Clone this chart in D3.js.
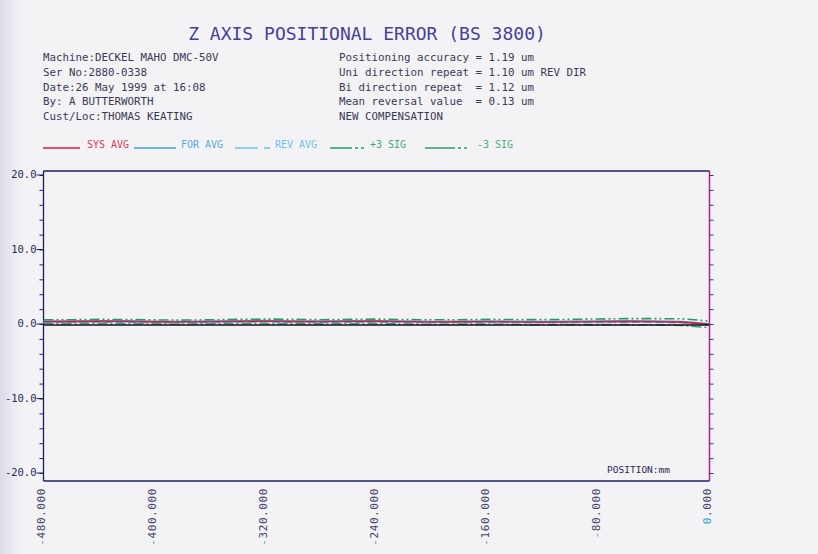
<!DOCTYPE html>
<html><head><meta charset="utf-8">
<script src="https://cdn.jsdelivr.net/npm/d3@7"></script>
<style>
html,body{margin:0;padding:0;background:#f3f3f5;}
svg text{font-family:"DejaVu Sans Mono",monospace;}
</style></head>
<body><svg id="c" width="818" height="554"></svg>
<script>
// ---- data ----
const positions = [-480,-460,-440,-420,-400,-380,-360,-340,-320,-300,-280,-260,-240,-220,-200,-180,-160,-140,-120,-100,-80,-60,-40,-20,0];
const sysAvg = [0.30,0.32,0.35,0.33,0.28,0.26,0.30,0.34,0.36,0.32,0.30,0.33,0.35,0.30,0.26,0.28,0.30,0.27,0.24,0.27,0.30,0.32,0.30,0.25,-0.05];
const forAvg = [0.38,0.40,0.44,0.42,0.36,0.34,0.38,0.42,0.45,0.40,0.38,0.42,0.44,0.38,0.34,0.36,0.40,0.36,0.33,0.36,0.40,0.42,0.40,0.34,0.02];
const revAvg = [0.22,0.24,0.26,0.24,0.20,0.18,0.22,0.26,0.27,0.24,0.22,0.24,0.26,0.22,0.18,0.20,0.22,0.19,0.16,0.19,0.22,0.24,0.22,0.17,-0.12];
const plus3Sig = [0.55,0.58,0.62,0.60,0.55,0.52,0.56,0.62,0.66,0.62,0.58,0.62,0.66,0.60,0.56,0.58,0.62,0.60,0.58,0.62,0.68,0.72,0.72,0.70,0.40];
const minus3Sig = [0.05,0.06,0.08,0.06,0.02,0.00,0.04,0.06,0.06,0.02,0.02,0.04,0.04,0.00,-0.04,-0.02,-0.02,-0.06,-0.10,-0.08,-0.08,-0.08,-0.12,-0.20,-0.50];
const yTickLabels = ["20.0","10.0","0.0","-10.0","-20.0"];
const yTickValues = [20,10,0,-10,-20];
const xTickValues = [-480,-400,-320,-240,-160,-80,0];
const xTickLabels = ["-480.000","-400.000","-320.000","-240.000","-160.000","-80.000","0.000"];
const titleText = "Z AXIS POSITIONAL ERROR (BS 3800)";
const infoLeft = ["Machine:DECKEL MAHO DMC-50V","Ser No:2880-0338","Date:26 May 1999 at 16:08","By: A BUTTERWORTH","Cust/Loc:THOMAS KEATING"];
const infoRight = ["Positioning accuracy = 1.19 um","Uni direction repeat = 1.10 um REV DIR","Bi direction repeat  = 1.12 um","Mean reversal value  = 0.13 um","NEW COMPENSATION"];
const seriesNames = ["SYS AVG","FOR AVG","REV AVG","+3 SIG","-3 SIG"];

// ---- drawing ----
const svg = d3.select("#c");
const defs = svg.append("defs");
const g1 = defs.append("linearGradient").attr("id","lg").attr("x1",0).attr("x2",1);
g1.append("stop").attr("offset","0").attr("stop-color","#dcdcea");
g1.append("stop").attr("offset","1").attr("stop-color","#f3f3f5");
svg.append("rect").attr("width",818).attr("height",554).attr("fill","#f3f3f5");
svg.append("rect").attr("width",22).attr("height",554).attr("fill","url(#lg)");

const x = d3.scaleLinear().domain([-480,0]).range([43.5,709.5]);
const y = d3.scaleLinear().domain([-20,20]).range([473,175]);
const frameTop = 171, frameBottom = 481;

// title
svg.append("text").attr("x",367).attr("y",40).attr("text-anchor","middle")
  .attr("font-size",18).attr("fill","#47409a").attr("xml:space","preserve").text(titleText);

const infoColor = "#3a3a55";
infoLeft.forEach((t,i)=>svg.append("text").attr("x",43).attr("y",61+i*14.8)
  .attr("font-size",10.8).attr("fill",infoColor).attr("xml:space","preserve").text(t));
infoRight.forEach((t,i)=>svg.append("text").attr("x",339).attr("y",61+i*14.8)
  .attr("font-size",10.8).attr("fill",infoColor).attr("xml:space","preserve").text(t));

// series styles
const colors = ["#d42040","#3aa0d8","#5ab8e8","#20a060","#30a070"];
const dashes = [null,null,"8,4","10,3,2,3,2,3","10,3,2,3"];
const allSeries = [sysAvg,forAvg,revAvg,plus3Sig,minus3Sig];

// legend
const ly = 148;
const legend = [
  {line:[43,80],text:87},
  {line:[134,176],text:181},
  {line:[235,258],text:275},
  {line:[330,366],text:370},
  {line:[425,470],text:477}
];
legend.forEach((l,i)=>{
  svg.append("line").attr("x1",l.line[0]).attr("x2",l.line[1]).attr("y1",ly).attr("y2",ly)
    .attr("stroke",colors[i]).attr("stroke-width",1.3)
    .attr("stroke-dasharray", i>=3 ? (i==3?"22,3,3,3,3,3":"30,3,3,3,3,3") : null);
  svg.append("text").attr("x",l.text).attr("y",ly-0.5).attr("font-size",10)
    .attr("fill",colors[i]).attr("opacity",0.85).text(seriesNames[i]);
});
svg.append("line").attr("x1",264).attr("x2",270).attr("y1",ly).attr("y2",ly).attr("stroke",colors[2]).attr("stroke-width",1.3);

// plot frame
svg.append("line").attr("x1",x(-480)).attr("x2",x(0)).attr("y1",frameTop).attr("y2",frameTop).attr("stroke","#1e1e60").attr("stroke-width",1.3);
svg.append("line").attr("x1",x(-480)).attr("x2",x(0)).attr("y1",frameBottom).attr("y2",frameBottom).attr("stroke","#1e1e60").attr("stroke-width",1.3);
svg.append("line").attr("x1",x(-480)).attr("x2",x(-480)).attr("y1",frameTop).attr("y2",frameBottom).attr("stroke","#1e1e60").attr("stroke-width",1.3);
svg.append("line").attr("x1",x(0)).attr("x2",x(0)).attr("y1",frameTop).attr("y2",frameBottom).attr("stroke","#b0208e").attr("stroke-width",1.5);

// left axis
const minor = d3.range(-20,21,2);
const leftAx = d3.axisLeft(y).tickValues(minor).tickSize(4).tickFormat("");
const la = svg.append("g").attr("transform",`translate(${x(-480)},0)`).call(leftAx);
la.select(".domain").remove();
la.selectAll("line").attr("stroke","#1e1e60");
yTickValues.forEach((v,i)=>{
  svg.append("line").attr("x1",x(-480)-7).attr("x2",x(-480)).attr("y1",y(v)).attr("y2",y(v)).attr("stroke","#1e1e60");
  svg.append("text").attr("x",x(-480)-7).attr("y",y(v)+3).attr("text-anchor","end")
    .attr("font-size",10.5).attr("fill","#2a2a55").text(yTickLabels[i]);
});
// right axis ticks
const rightAx = d3.axisRight(y).tickValues(minor).tickSize(4).tickFormat("");
const ra = svg.append("g").attr("transform",`translate(${x(0)},0)`).call(rightAx);
ra.select(".domain").remove();
ra.selectAll("line").attr("stroke","#3a3a60");

// bottom labels
xTickValues.forEach((v,i)=>{
  const t = svg.append("text").attr("transform",`translate(${x(v)-2},488) rotate(-90)`)
    .attr("text-anchor","end").attr("dy","0.35em").attr("font-size",11).attr("letter-spacing",0.6);
  const s = xTickLabels[i];
  t.append("tspan").attr("fill","#30a8c8").text(s[0]);
  t.append("tspan").attr("fill","#45456a").text(s.slice(1));
});
svg.append("text").attr("x",670).attr("y",473).attr("text-anchor","end").attr("font-size",9.5)
  .attr("fill","#2a2a55").text("POSITION:mm");

// series
const line = d3.line().x((d,i)=>x(positions[i])).y(d=>y(d));
[3,4,2,1,0].forEach(k=>{
  svg.append("path").datum(allSeries[k]).attr("d",line).attr("fill","none")
    .attr("stroke",colors[k]).attr("stroke-width",1.6)
    .attr("stroke-dasharray",dashes[k]);
});
// zero line
svg.append("line").attr("x1",x(-480)).attr("x2",x(0)).attr("y1",y(0)+1).attr("y2",y(0)+1)
  .attr("stroke","#101018").attr("stroke-width",1.4);
</script></body></html>
